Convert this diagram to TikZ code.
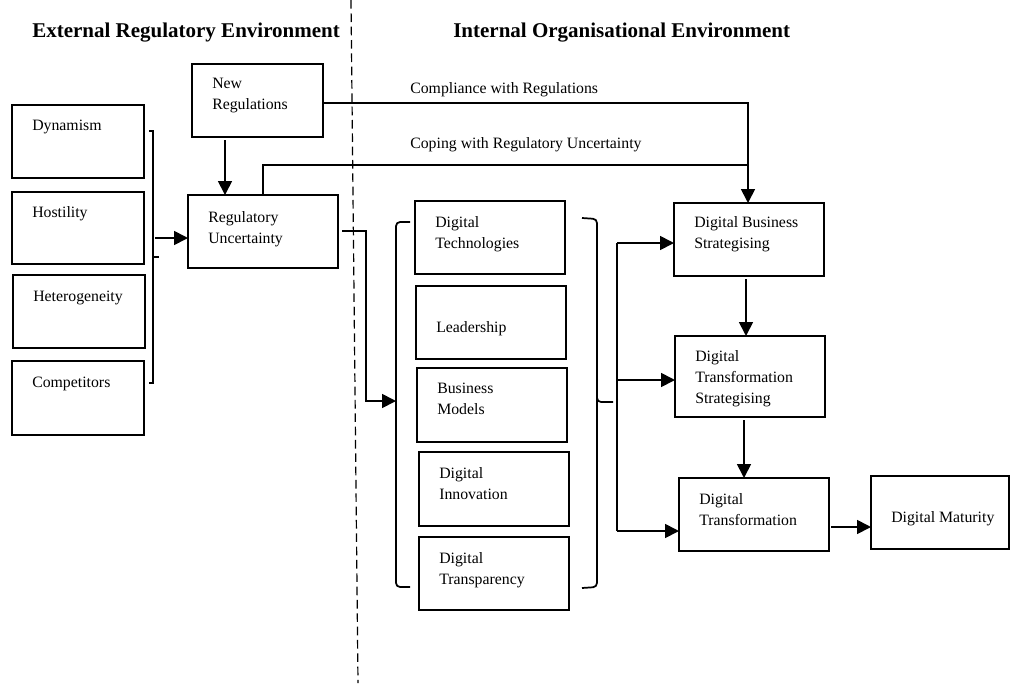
\documentclass[tikz,border=0pt]{standalone}
\usepackage{fontspec}
\setmainfont{Liberation Serif}
\usetikzlibrary{arrows.meta}
\newcommand\ml[1]{\begin{tabular}[t]{@{}l@{}}#1\end{tabular}}
\newcommand\mybox[5]{\node[box, anchor=north west, minimum width={(#4-#2)*0.75pt}, minimum height={(#5-#3)*0.75pt}] (#1) at (#2,#3) {};}
\tikzset{
  box/.style={draw, line width=0.9pt, inner sep=0pt, outer sep=0pt},
  txt/.style={inner sep=0pt, anchor=base west, font=\fontsize{11.85}{15.75}\selectfont},
  ttl/.style={inner sep=0pt, anchor=base west, font=\fontsize{15.75}{18}\selectfont\bfseries},
  conn/.style={line width=1.3pt},
  arr/.style={conn, -{Triangle[length=10.5pt,width=10.5pt]}},
  divider/.style={line width=0.9pt, dash pattern=on 6.5pt off 3.5pt}
}
\begin{document}
\begin{tikzpicture}[x=0.75pt,y=-0.75pt]
\useasboundingbox (0,0) rectangle (1011,683);

% divider
\coordinate (dtop) at (351,0);
\coordinate (dbot) at (358,683);
\draw[divider] (dtop) -- (dbot);

% titles
\node[ttl] (t1) at (32,37) {External Regulatory Environment};
\node[ttl] (t2) at (453,37) {Internal Organisational Environment};

% left boxes
\mybox{dyn}{12}{105}{144}{178}
\mybox{hos}{12}{192}{144}{264}
\mybox{het}{13}{275}{145}{348}
\mybox{com}{12}{361}{144}{435}
\node[txt] (dynt) at (32,130) {Dynamism};
\node[txt] (host) at (32,217) {Hostility};
\node[txt] (hett) at (33,301) {Heterogeneity};
\node[txt] (comt) at (32,387) {Competitors};

% regulation boxes
\mybox{newr}{192}{64}{323}{137}
\mybox{regu}{188}{195}{338}{268}
\node[txt] (newrt) at (212,88) {\ml{New\\Regulations}};
\node[txt] (regut) at (208,222) {\ml{Regulatory\\Uncertainty}};

% middle column
\mybox{dtec}{415}{201}{565}{274}
\mybox{lead}{416}{286}{566}{359}
\mybox{busm}{417}{368}{567}{442}
\mybox{dinn}{419}{452}{569}{526}
\mybox{dtra}{419}{537}{569}{610}
\node[txt] (dtect) at (435,227) {\ml{Digital\\Technologies}};
\node[txt] (leadt) at (436,332) {Leadership};
\node[txt] (busmt) at (437,393) {\ml{Business\\Models}};
\node[txt] (dinnt) at (439,478) {\ml{Digital\\Innovation}};
\node[txt] (dtrat) at (439,563) {\ml{Digital\\Transparency}};

% right column
\mybox{dbs}{674}{203}{824}{276}
\mybox{dts}{675}{336}{825}{417}
\mybox{dt}{679}{478}{829}{551}
\mybox{dm}{871}{476}{1009}{549}
\node[txt] (dbst) at (694,227) {\ml{Digital Business\\Strategising}};
\node[txt] (dtst) at (695,361) {\ml{Digital\\Transformation\\Strategising}};
\node[txt] (dtt) at (699,504) {\ml{Digital\\Transformation}};
\node[txt] (dmt) at (891,522) {Digital Maturity};

% connector labels
\node[txt] (lcomp) at (410,93) {Compliance with Regulations};
\node[txt] (lcop) at (410,148) {Coping with Regulatory Uncertainty};

% left bracket and arrow into regulatory uncertainty
\draw[conn] (149,131) -- (153,131) -- (153,383) -- (149,383);
\draw[conn] (153,257) -- (159,257);
\coordinate (lb) at (155,238);
\draw[arr] (lb) -- (lb -| regu.west);

% new regulations -> regulatory uncertainty
\coordinate (nr) at (225,140);
\draw[arr] (nr) -- (nr |- regu.north);

% compliance and coping lines
\coordinate (cs) at (323,103);
\coordinate (jn) at (748,103);
\draw[arr] (cs) -- (jn) -- (jn |- dbs.north);
\coordinate (cps) at (263,195);
\coordinate (cpj) at (748,165);
\draw[conn] (cps) |- (cpj);

% regulatory uncertainty -> middle brace
\coordinate (rs) at (342,231);
\coordinate (bl) at (396,401);
\draw[arr] (rs) -- (366,231) |- (bl);

% middle left brace
\draw[conn, rounded corners=3pt] (410,222) -- (396,222) -- (396,587) -- (410,587);
% middle right brace
\draw[conn, rounded corners=3pt] (582,218) -- (597,219) -- (597,402) -- (613,402);
\draw[conn, rounded corners=3pt] (597,398) -- (597,587) -- (582,588);

% vertical distributor
\coordinate (vt) at (617,243);
\coordinate (vm) at (617,380);
\coordinate (vb) at (617,531);
\draw[conn] (vt) -- (vb);
\draw[arr] (vt) -- (vt -| dbs.west);
\draw[arr] (vm) -- (vm -| dts.west);
\draw[arr] (vb) -- (vb -| dt.west);

% right chain
\coordinate (a1) at (746,279);
\draw[arr] (a1) -- (a1 |- dts.north);
\coordinate (a2) at (744,420);
\draw[arr] (a2) -- (a2 |- dt.north);
\coordinate (a3) at (831,527);
\draw[arr] (a3) -- (a3 -| dm.west);
\end{tikzpicture}
\end{document}
